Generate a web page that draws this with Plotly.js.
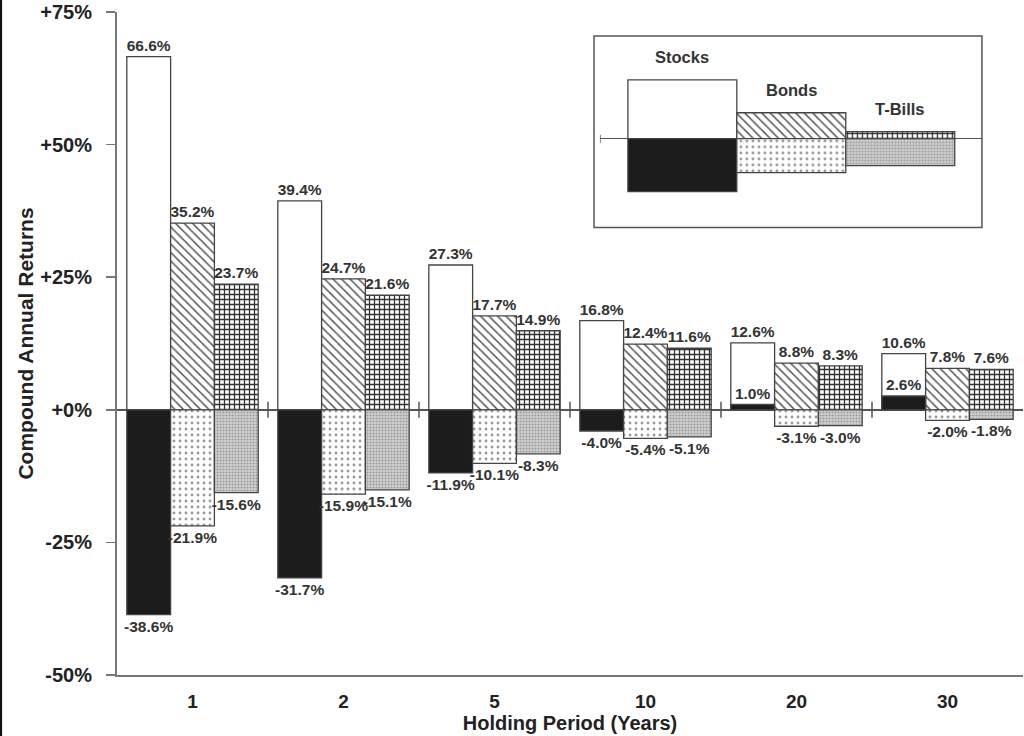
<!DOCTYPE html>
<html>
<head>
<meta charset="utf-8">
<script src="https://cdn.plot.ly/plotly-3.0.1.min.js"></script>
<style>html,body{margin:0;padding:0;background:#fff;}#chart{width:1024px;height:736px;}</style>
</head>
<body>
<div id="chart"></div>
<script>
// ---- data ----
const periods = ['1', '2', '5', '10', '20', '30'];
const assets = ['Stocks', 'Bonds', 'T-Bills'];
const stocksMax = [66.6, 39.4, 27.3, 16.8, 12.6, 10.6];
const stocksMin = [-38.6, -31.7, -11.9, -4.0, 1.0, 2.6];
const bondsMax = [35.2, 24.7, 17.7, 12.4, 8.8, 7.8];
const bondsMin = [-21.9, -15.9, -10.1, -5.4, -3.1, -2.0];
const billsMax = [23.7, 21.6, 14.9, 11.6, 8.3, 7.6];
const billsMin = [-15.6, -15.1, -8.3, -5.1, -3.0, -1.8];
const yTickVals = [-50, -25, 0, 25, 50, 75];
const yTickText = ['-50%', '-25%', '+0%', '+25%', '+50%', '+75%'];
// legend key sample sizes (inset key, arbitrary units)
const legendKeyUp = [59, 26, 7];
const legendKeyDown = [-53, -34, -27];

const FONT = 'Liberation Sans, Arial, sans-serif';
const fmt = v => v.toFixed(1) + '%';
const lbl = {family: FONT, size: 15.5, color: '#333', weight: 'bold'};
const edge = {color: '#444', width: 1.3};

const styles = {
  stocksMax: {color: '#ffffff', line: edge},
  stocksMin: {color: '#1c1c1c', line: edge},
  bondsMax: {color: '#ffffff', line: edge, pattern: {shape: '\\', fgcolor: '#555', bgcolor: '#ffffff', size: 6, solidity: 0.25}},
  bondsMin: {color: '#ffffff', line: edge, pattern: {shape: '.', fgcolor: '#9a9a9a', bgcolor: '#ffffff', size: 6, solidity: 0.18}},
  billsMax: {color: '#ffffff', line: edge, pattern: {shape: '+', fgcolor: '#333', bgcolor: '#ffffff', size: 5, solidity: 0.45}},
  billsMin: {color: '#cfcfcf', line: edge, pattern: {shape: '.', fgcolor: '#9a9a9a', bgcolor: '#d2d2d2', size: 3, solidity: 0.4}}
};

function barTrace(vals, group, style) {
  return {
    type: 'bar', x: periods, y: vals, offsetgroup: group,
    marker: style, text: vals.map(fmt), textposition: 'outside',
    textfont: lbl, textangle: 0, constraintext: 'none', cliponaxis: false,
    hoverinfo: 'skip', showlegend: false, xaxis: 'x', yaxis: 'y'
  };
}

const traces = [
  barTrace(stocksMax, 'S', styles.stocksMax),
  barTrace(bondsMax, 'B', styles.bondsMax),
  barTrace(billsMax, 'T', styles.billsMax),
  barTrace(stocksMin, 'S', styles.stocksMin),
  barTrace(bondsMin, 'B', styles.bondsMin),
  barTrace(billsMin, 'T', styles.billsMin)
];

// inset legend key: one trace per sample
const upStyles = [styles.stocksMax, styles.bondsMax, styles.billsMax];
const downStyles = [styles.stocksMin, styles.bondsMin, styles.billsMin];
assets.forEach((a, i) => {
  [[legendKeyUp[i], upStyles[i]], [legendKeyDown[i], downStyles[i]]].forEach(([v, st]) => {
    traces.push({
      type: 'bar', x: [i], y: [v], xaxis: 'x2', yaxis: 'y2', offsetgroup: 'L',
      width: 1, offset: -0.5, hoverinfo: 'skip', showlegend: false, marker: st
    });
  });
});

const shapes = [];
for (let i = 0; i < periods.length - 1; i++) {
  shapes.push({type: 'line', xref: 'x', yref: 'y', x0: i + 0.5, x1: i + 0.5,
    ysizemode: 'pixel', yanchor: 0, y0: -8, y1: 8, line: {color: '#555', width: 1.5}});
}
shapes.push({type: 'rect', xref: 'paper', yref: 'paper', x0: 0.5265, x1: 0.9547, y0: 0.675, y1: 0.9639,
  line: {color: '#555', width: 1.5}, fillcolor: 'rgba(0,0,0,0)'});
shapes.push({type: 'line', xref: 'x2', yref: 'y2', x0: -0.757, x1: -0.757,
  ysizemode: 'pixel', yanchor: 0, y0: -4, y1: 4, line: {color: '#555', width: 1.5}});
shapes.push({type: 'line', xref: 'paper', yref: 'paper', x0: -0.1285, x1: -0.1285, y0: -0.1, y1: 1.03,
  line: {color: '#111', width: 3}});

const annotations = assets.map((a, i) => ({
  xref: 'x2', yref: 'y2', x: i, y: legendKeyUp[i], yshift: 23, text: a, showarrow: false,
  font: {family: FONT, size: 16.5, color: '#333', weight: 'bold'}
}));

const layout = {
  width: 1024, height: 736,
  margin: {l: 117, r: 1, t: 12, b: 61},
  paper_bgcolor: '#ffffff', plot_bgcolor: '#ffffff',
  barmode: 'group', bargap: 0.13, bargroupgap: 0,
  showlegend: false,
  font: {family: FONT, color: '#222'},
  xaxis: {
    type: 'category', domain: [0, 1], anchor: 'y',
    showline: true, linecolor: '#777', linewidth: 2, ticks: '', showgrid: false,
    ticklabelstandoff: 8,
    tickfont: {family: FONT, size: 19, color: '#222', weight: 'bold'},
    title: {text: 'Holding Period (Years)', standoff: 3,
      font: {family: FONT, size: 20, color: '#222', weight: 'bold'}}
  },
  yaxis: {
    range: [-50, 75], domain: [0, 1], anchor: 'x',
    tickvals: yTickVals, ticktext: yTickText, ticks: 'outside', ticklen: 9, tickcolor: '#777', tickwidth: 1.5,
    ticklabelstandoff: 10, ticklabeloverflow: 'allow',
    showline: true, linecolor: '#777', linewidth: 2, showgrid: false,
    zeroline: true, zerolinecolor: '#555', zerolinewidth: 1.5,
    tickfont: {family: FONT, size: 20, color: '#222', weight: 'bold'},
    title: {text: 'Compound Annual Returns', standoff: 1,
      font: {family: FONT, size: 21, color: '#222', weight: 'bold'}}
  },
  yaxis3: {
    overlaying: 'y', matches: 'y', anchor: 'x', side: 'left',
    tickvals: yTickVals, ticks: 'inside', ticklen: 6, tickcolor: '#777', tickwidth: 1.5,
    showticklabels: false, showgrid: false, zeroline: false, showline: false
  },
  xaxis2: {domain: [0.533, 0.9547], anchor: 'y2', range: [-0.757, 2.75],
    showgrid: false, zeroline: false, showline: false, showticklabels: false, ticks: ''},
  yaxis2: {domain: [0.675, 0.9639], anchor: 'x2', range: [-89, 103],
    showgrid: false, zeroline: true, zerolinecolor: '#555', zerolinewidth: 1.5,
    showline: false, showticklabels: false, ticks: ''},
  shapes: shapes,
  annotations: annotations
};

Plotly.newPlot('chart', traces, layout, {displayModeBar: false, staticPlot: true});
</script>
</body>
</html>
